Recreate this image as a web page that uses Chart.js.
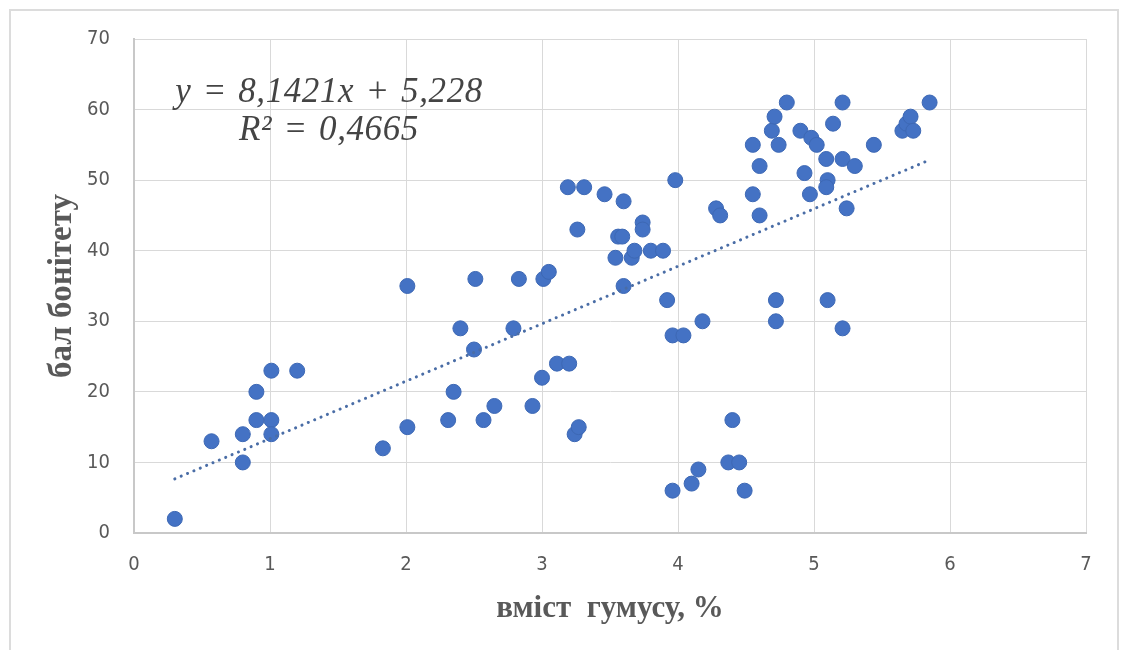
<!DOCTYPE html>
<html>
<head>
<meta charset="utf-8">
<script src="https://cdn.jsdelivr.net/npm/chart.js@4.4.0/dist/chart.umd.min.js"></script>
<style>
  html, body { margin: 0; padding: 0; background: #ffffff; }
  #wrap { position: relative; width: 1121px; height: 650px; overflow: hidden; background: #fff; }
  #frame { position: absolute; left: 9px; top: 9px; width: 1110px; height: 660px;
           border: 2px solid #dcdcdc; box-sizing: border-box; pointer-events: none; }
  canvas { position: absolute; left: 0; top: 0; }
  .eq { position: absolute; left: 129px; width: 400px; text-align: center;
        font-family: "Liberation Serif", "Times New Roman", serif; font-style: italic;
        font-size: 35px; line-height: 38px; color: #444444; white-space: nowrap;
        letter-spacing: 0.6px; word-spacing: 2px; }
</style>
</head>
<body>
<div id="wrap">
  <canvas id="c" width="1121" height="650"></canvas>
  <div id="frame"></div>
  <div class="eq" id="eq1" style="top:72px;"></div>
  <div class="eq" id="eq2" style="top:110px;"></div>
</div>
<script>
// --- data ---
const humus = [
  0.30, 0.57, 0.80, 0.80, 0.90, 0.90, 1.01, 1.01, 1.01, 1.20,
  1.83, 2.01, 2.01, 2.31, 2.35, 2.40, 2.50, 2.51, 2.57, 2.65,
  2.79, 2.83, 2.93, 3.00, 3.01, 3.05, 3.11, 3.20, 3.19, 3.26,
  3.31, 3.24, 3.27, 3.46, 3.54, 3.56, 3.60, 3.59, 3.60, 3.66,
  3.68, 3.74, 3.74, 3.80, 3.89, 3.92, 3.96, 3.98, 4.04, 3.96,
  4.10, 4.15, 4.18, 4.28, 4.31, 4.37, 4.40, 4.45, 4.49, 4.55,
  4.55, 4.60, 4.60, 4.69, 4.71, 4.72, 4.72, 4.74, 4.80, 4.90,
  4.98, 5.02, 4.93, 4.97, 5.09, 5.10, 5.09, 5.21, 5.14, 5.21,
  5.24, 5.30, 5.10, 5.21, 5.44, 5.65, 5.68, 5.71, 5.73, 5.85
];
const score = [
  2, 13, 14, 10, 20, 16, 23, 16, 14, 23,
  12, 35, 15, 16, 20, 29, 26, 36, 16, 18,
  29, 36, 18, 22, 36, 37, 24, 24, 49, 43,
  49, 14, 15, 48, 39, 42, 47, 42, 35, 39,
  40, 44, 43, 40, 40, 33, 28, 50, 28, 6,
  7, 9, 30, 46, 45, 10, 16, 10, 6, 55,
  48, 52, 45, 57, 59, 33, 30, 55, 61, 57,
  56, 55, 51, 48, 53, 50, 49, 61, 58, 53,
  46, 52, 33, 29, 55, 57, 58, 59, 57, 61
];
const trendSlope = 8.1421;
const trendIntercept = 5.228;
const rSquared = 0.4665;
const xTicks = [0, 1, 2, 3, 4, 5, 6, 7];
const yTicks = [0, 10, 20, 30, 40, 50, 60, 70];
const xTitle = "вміст  гумусу, %";
const yTitle = "бал бонітету";

// --- build chart ---
const points = humus.map((x, i) => ({ x: x, y: score[i] }));
const xMin = Math.min(...humus), xMax = Math.max(...humus);
const trend = [xMin, xMax].map(x => ({ x: x, y: trendSlope * x + trendIntercept }));

const fmt = v => String(v).replace('.', ',');
document.getElementById('eq1').textContent = 'y = ' + fmt(trendSlope) + 'x + ' + fmt(trendIntercept);
document.getElementById('eq2').textContent = 'R² = ' + fmt(rSquared);

const tickFont = { family: '"Liberation Sans Narrow", "DejaVu Sans Condensed", "Liberation Sans", sans-serif', size: 20 };
const xTitleFont = { family: '"Liberation Serif", "Times New Roman", serif', size: 31, weight: 'bold' };
const yTitleFont = { family: '"Liberation Serif", "Times New Roman", serif', size: 33, weight: 'bold' };

new Chart(document.getElementById('c'), {
  type: 'scatter',
  data: {
    datasets: [
      {
        type: 'line',
        data: trend,
        borderColor: '#4a6da6',
        borderWidth: 3,
        borderDash: [0.1, 6.8],
        borderCapStyle: 'round',
        pointRadius: 0,
        fill: false,
        order: 0
      },
      {
        data: points,
        backgroundColor: '#4472C4',
        borderColor: '#3d68b4',
        borderWidth: 1,
        pointRadius: 7.5,
        pointHoverRadius: 7.5,
        order: 1
      }
    ]
  },
  options: {
    responsive: false,
    animation: false,
    devicePixelRatio: 1,
    layout: { padding: { left: 0, top: 39, right: 35, bottom: 0 } },
    plugins: { legend: { display: false }, tooltip: { enabled: false } },
    scales: {
      x: {
        type: 'linear',
        min: xTicks[0],
        max: xTicks[xTicks.length - 1],
        afterBuildTicks: s => { s.ticks = xTicks.map(v => ({ value: v })); },
        afterFit: s => { s.height = 117; },
        grid: { color: '#d9d9d9', lineWidth: 1, drawTicks: false },
        border: { color: '#c8c8c8', width: 2 },
        ticks: { color: '#595959', font: tickFont, padding: 20, maxRotation: 0 },
        title: { display: true, text: xTitle, color: '#595959', font: xTitleFont,
                 padding: { top: 0, bottom: 22 } }
      },
      y: {
        type: 'linear',
        min: yTicks[0],
        max: yTicks[yTicks.length - 1],
        afterBuildTicks: s => { s.ticks = yTicks.map(v => ({ value: v })); },
        afterFit: s => { s.width = 134; },
        grid: { color: '#d9d9d9', lineWidth: 1, drawTicks: false },
        border: { color: '#c8c8c8', width: 2 },
        ticks: { color: '#595959', font: tickFont, padding: 24 },
        title: { display: true, text: yTitle, color: '#595959', font: yTitleFont,
                 padding: { top: 43, bottom: 0 } }
      }
    }
  }
});
</script>
</body>
</html>
